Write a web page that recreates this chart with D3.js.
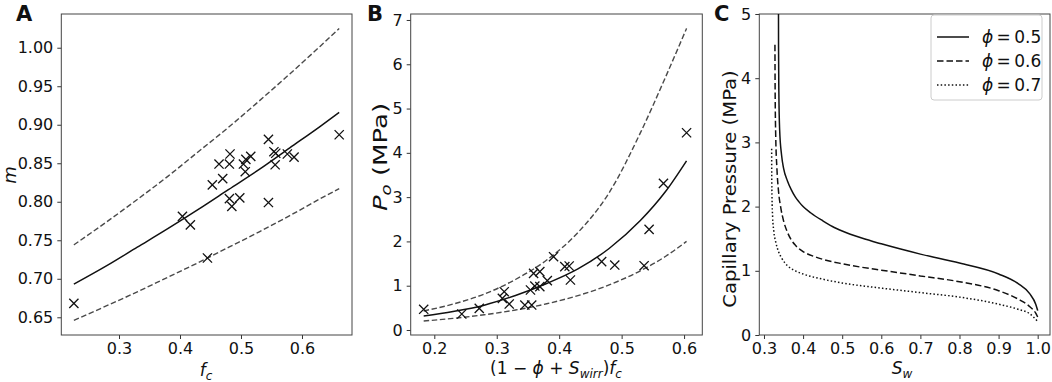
<!DOCTYPE html>
<html>
<head lang="en">
    <meta charset="UTF-8">
    <title></title>
    <script src="https://cdn.jsdelivr.net/npm/d3@7/dist/d3.min.js" charset="UTF-8"></script>
    <style>
        body{margin:0;background:#fff;}
        text{font-family:"DejaVu Sans",sans-serif;fill:#111;}
    </style>
</head>
<body>
<script>
    // panel A : m vs fc
    var fcA=[0.226,0.404,0.417,0.445,0.453,0.464,0.470,0.482,0.481,0.481,0.485,0.498,0.504,0.508,0.516,0.507,0.545,0.545,0.554,0.557,0.556,0.576,0.587,0.661];
    var mA=[0.668,0.781,0.770,0.727,0.822,0.849,0.830,0.862,0.849,0.804,0.794,0.805,0.849,0.855,0.859,0.839,0.881,0.799,0.865,0.863,0.848,0.862,0.858,0.887];
    var fcCurve=[0.226,0.28,0.33,0.38,0.43,0.48,0.53,0.58,0.63,0.661];
    var mFit=[0.693,0.717,0.741,0.765,0.790,0.816,0.842,0.870,0.898,0.916];
    var mUpper=[0.744,0.774,0.803,0.833,0.865,0.897,0.931,0.966,1.002,1.025];
    var mLower=[0.646,0.665,0.683,0.702,0.721,0.741,0.761,0.782,0.804,0.817];
    var ticksAx=[0.3,0.4,0.5,0.6];
    var ticksAy=[0.65,0.70,0.75,0.80,0.85,0.90,0.95,1.00];

    // panel B : Po vs (1-phi+Swirr)fc
    var xB=[0.183,0.244,0.272,0.309,0.312,0.320,0.345,0.356,0.354,0.361,0.369,0.359,0.369,0.381,0.391,0.409,0.416,0.418,0.468,0.489,0.536,0.544,0.567,0.604];
    var poB=[0.467,0.361,0.489,0.715,0.865,0.587,0.564,0.564,0.903,0.993,0.978,1.279,1.317,1.114,1.655,1.430,1.445,1.129,1.543,1.467,1.452,2.272,3.311,4.454];
    var xCurveB=[0.183,0.23,0.28,0.33,0.38,0.43,0.48,0.53,0.57,0.604];
    var poFit=[0.316,0.417,0.561,0.78,1.05,1.38,1.84,2.47,3.12,3.82];
    var poUpper=[0.43,0.585,0.812,1.14,1.58,2.2,3.1,4.45,5.7,6.81];
    var poLower=[0.203,0.262,0.344,0.451,0.592,0.776,1.018,1.336,1.660,2.00];
    var ticksBx=[0.2,0.3,0.4,0.5,0.6];
    var ticksBy=[0,1,2,3,4,5,6,7];

    // panel C : capillary pressure curves
    var swPhi5=[0.337,0.3372,0.338,0.34,0.345,0.35,0.36,0.37,0.38,0.39,0.4,0.42,0.45,0.475,0.5,0.55,0.6,0.7,0.8,0.9,0.95,0.98,0.995,1.0];
    var pcPhi5=[5.3,4.5,3.8,3.2,2.8,2.6,2.4,2.26,2.15,2.07,2.0,1.9,1.78,1.69,1.62,1.51,1.42,1.26,1.12,0.95,0.80,0.64,0.48,0.38];
    var swPhi6=[0.328,0.3285,0.33,0.333,0.337,0.343,0.35,0.36,0.37,0.38,0.4,0.43,0.45,0.5,0.55,0.6,0.7,0.8,0.9,0.95,0.98,0.995,1.0];
    var pcPhi6=[4.52,3.8,3.1,2.6,2.25,1.98,1.78,1.6,1.48,1.4,1.3,1.22,1.18,1.11,1.055,1.01,0.92,0.83,0.69,0.56,0.44,0.34,0.28];
    var swPhi7=[0.3196,0.3198,0.3205,0.322,0.325,0.33,0.337,0.345,0.36,0.38,0.4,0.45,0.5,0.6,0.7,0.8,0.9,0.95,0.98,1.0];
    var pcPhi7=[2.9,2.5,2.15,1.85,1.62,1.45,1.3,1.2,1.08,1.0,0.95,0.87,0.81,0.73,0.66,0.59,0.48,0.40,0.33,0.21];
    var phiLabels=["0.5","0.6","0.7"];
    var ticksCx=[0.3,0.4,0.5,0.6,0.7,0.8,0.9,1.0];
    var ticksCy=[0,1,2,3,4,5];

    var _svg=d3.select("body")
            .append("svg")
            .attr("width",1052)
            .attr("height",382);

    var plotTop=14, plotBottom=335;
    var dashGray="#4a4a4a";

    function makePanel(id,left,right,xdom,ydom,xt,yt,xfmt,yfmt){
        var x=d3.scaleLinear().domain(xdom).range([left,right]);
        var y=d3.scaleLinear().domain(ydom).range([plotBottom,plotTop]);
        var g=_svg.append("g").attr("id",id);
        g.append("clipPath").attr("id","clip"+id)
                .append("rect")
                .attr("x",left).attr("y",plotTop)
                .attr("width",right-left).attr("height",plotBottom-plotTop);
        g.append("g")
                .attr("transform","translate(0,"+plotBottom+")")
                .call(d3.axisBottom(x).tickValues(xt).tickFormat(d3.format(xfmt)).tickSize(4).tickPadding(4));
        g.append("g")
                .attr("transform","translate("+left+",0)")
                .call(d3.axisLeft(y).tickValues(yt).tickFormat(d3.format(yfmt)).tickSize(4).tickPadding(4));
        g.selectAll(".domain").remove();
        g.selectAll(".tick line").attr("stroke","#333");
        g.selectAll(".tick text")
                .style("font-family","DejaVu Sans")
                .style("font-size","16px")
                .attr("fill","#111");
        g.append("rect")
                .attr("x",left).attr("y",plotTop)
                .attr("width",right-left).attr("height",plotBottom-plotTop)
                .attr("fill","none")
                .attr("stroke","#444")
                .attr("stroke-width",1);
        var plot=g.append("g").attr("clip-path","url(#clip"+id+")");
        return {x:x,y:y,g:g,plot:plot};
    }

    function drawCurve(p,xs,ys,dash,color,width){
        var line=d3.line()
                .x(function(d){return p.x(d[0]);})
                .y(function(d){return p.y(d[1]);})
                .curve(d3.curveMonotoneX);
        p.plot.append("path")
                .datum(d3.zip(xs,ys))
                .attr("d",line)
                .attr("fill","none")
                .attr("stroke",color)
                .attr("stroke-width",width)
                .attr("stroke-dasharray",dash);
    }

    function drawCrosses(p,xs,ys){
        var s=4.6;
        p.g.append("g")
                .selectAll("path")
                .data(d3.zip(xs,ys))
                .enter()
                .append("path")
                .attr("d",function(d){
                    var cx=p.x(d[0]), cy=p.y(d[1]);
                    return "M"+(cx-s)+","+(cy-s)+"L"+(cx+s)+","+(cy+s)+
                           "M"+(cx-s)+","+(cy+s)+"L"+(cx+s)+","+(cy-s);
                })
                .attr("stroke","#111")
                .attr("stroke-width",1.3)
                .attr("fill","none");
    }

    function panelLetter(txt,x){
        _svg.append("text")
                .attr("x",x).attr("y",21)
                .style("font-size","21px")
                .style("font-weight","bold")
                .text(txt);
    }

    // ---- A
    var pA=makePanel("pa",61.3,352,[0.2054,0.682],[0.627,1.0438],ticksAx,ticksAy,".1f",".2f");
    drawCurve(pA,fcCurve,mUpper,"5.5,2.6",dashGray,1.4);
    drawCurve(pA,fcCurve,mLower,"5.5,2.6",dashGray,1.4);
    drawCurve(pA,fcCurve,mFit,null,"#111",1.5);
    drawCrosses(pA,fcA,mA);
    panelLetter("A",16);
    _svg.append("text")
            .attr("transform","translate(16,175) rotate(-90)")
            .attr("text-anchor","middle")
            .style("font-size","18px")
            .style("font-style","italic")
            .text("m");
    var la=_svg.append("text")
            .attr("x",206).attr("y",376)
            .attr("text-anchor","middle")
            .style("font-size","17px")
            .style("font-style","italic");
    la.append("tspan").text("f");
    la.append("tspan").attr("dy",4).style("font-size","12px").text("c");

    // ---- B
    var pB=makePanel("pb",410.7,702.3,[0.1622,0.6292],[-0.113,7.135],ticksBx,ticksBy,".1f","d");
    drawCurve(pB,xCurveB,poUpper,"5.5,2.6",dashGray,1.4);
    drawCurve(pB,xCurveB,poLower,"5.5,2.6",dashGray,1.4);
    drawCurve(pB,xCurveB,poFit,null,"#111",1.5);
    drawCrosses(pB,xB,poB);
    panelLetter("B",367);
    var lby=_svg.append("text")
            .attr("transform","translate(387,157) rotate(-90) scale(1.3,1)")
            .attr("text-anchor","middle")
            .style("font-size","20px");
    lby.append("tspan").style("font-style","italic").text("P");
    lby.append("tspan").attr("dy",4).style("font-size","14px").style("font-style","italic").text("o");
    lby.append("tspan").attr("dy",-4).text(" (MPa)");
    var lbx=_svg.append("text")
            .attr("x",556).attr("y",374)
            .attr("text-anchor","middle")
            .style("font-size","17px");
    lbx.append("tspan").text("(1 \u2212 ");
    lbx.append("tspan").style("font-style","italic").text("\u03d5");
    lbx.append("tspan").text(" + ");
    lbx.append("tspan").style("font-style","italic").text("S");
    lbx.append("tspan").attr("dy",4).style("font-size","12px").style("font-style","italic").text("wirr");
    lbx.append("tspan").attr("dy",-4).text(")");
    lbx.append("tspan").style("font-style","italic").text("f");
    lbx.append("tspan").attr("dy",4).style("font-size","12px").style("font-style","italic").text("c");

    // ---- C
    var pC=makePanel("pc",759.3,1050,[0.288,1.0315],[0,5],ticksCx,ticksCy,".1f","d");
    var styles=["none","6.5,3","1.5,2.2"];
    drawCurve(pC,swPhi5,pcPhi5,styles[0],"#111",1.5);
    drawCurve(pC,swPhi6,pcPhi6,styles[1],"#111",1.5);
    drawCurve(pC,swPhi7,pcPhi7,styles[2],"#111",1.5);
    panelLetter("C",714);
    _svg.append("text")
            .attr("transform","translate(736,189) rotate(-90) scale(1.09,1)")
            .attr("text-anchor","middle")
            .style("font-size","18px")
            .text("Capillary Pressure (MPa)");
    var lcx=_svg.append("text")
            .attr("x",902).attr("y",374)
            .attr("text-anchor","middle")
            .style("font-size","17px")
            .style("font-style","italic");
    lcx.append("tspan").text("S");
    lcx.append("tspan").attr("dy",4).style("font-size","12px").text("w");

    // legend
    var lg=_svg.append("g").attr("transform","translate(931,15)");
    lg.append("rect")
            .attr("width",111).attr("height",85)
            .attr("rx",3)
            .attr("fill","#fff")
            .attr("stroke","#ccc");
    lg.selectAll("line")
            .data(phiLabels)
            .enter()
            .append("line")
            .attr("x1",6).attr("x2",38)
            .attr("y1",function(d,i){return 22+i*24;})
            .attr("y2",function(d,i){return 22+i*24;})
            .attr("stroke","#111")
            .attr("stroke-width",1.5)
            .attr("stroke-dasharray",function(d,i){return styles[i];});
    var lt=lg.selectAll("text")
            .data(phiLabels)
            .enter()
            .append("text")
            .attr("x",51)
            .attr("y",function(d,i){return 28+i*24;})
            .style("font-size","17px");
    lt.append("tspan").style("font-style","italic").text("\u03d5");
    lt.append("tspan").text(function(d){return "\u2009=\u20090"+d.slice(1);});
</script>

</body>
</html>
